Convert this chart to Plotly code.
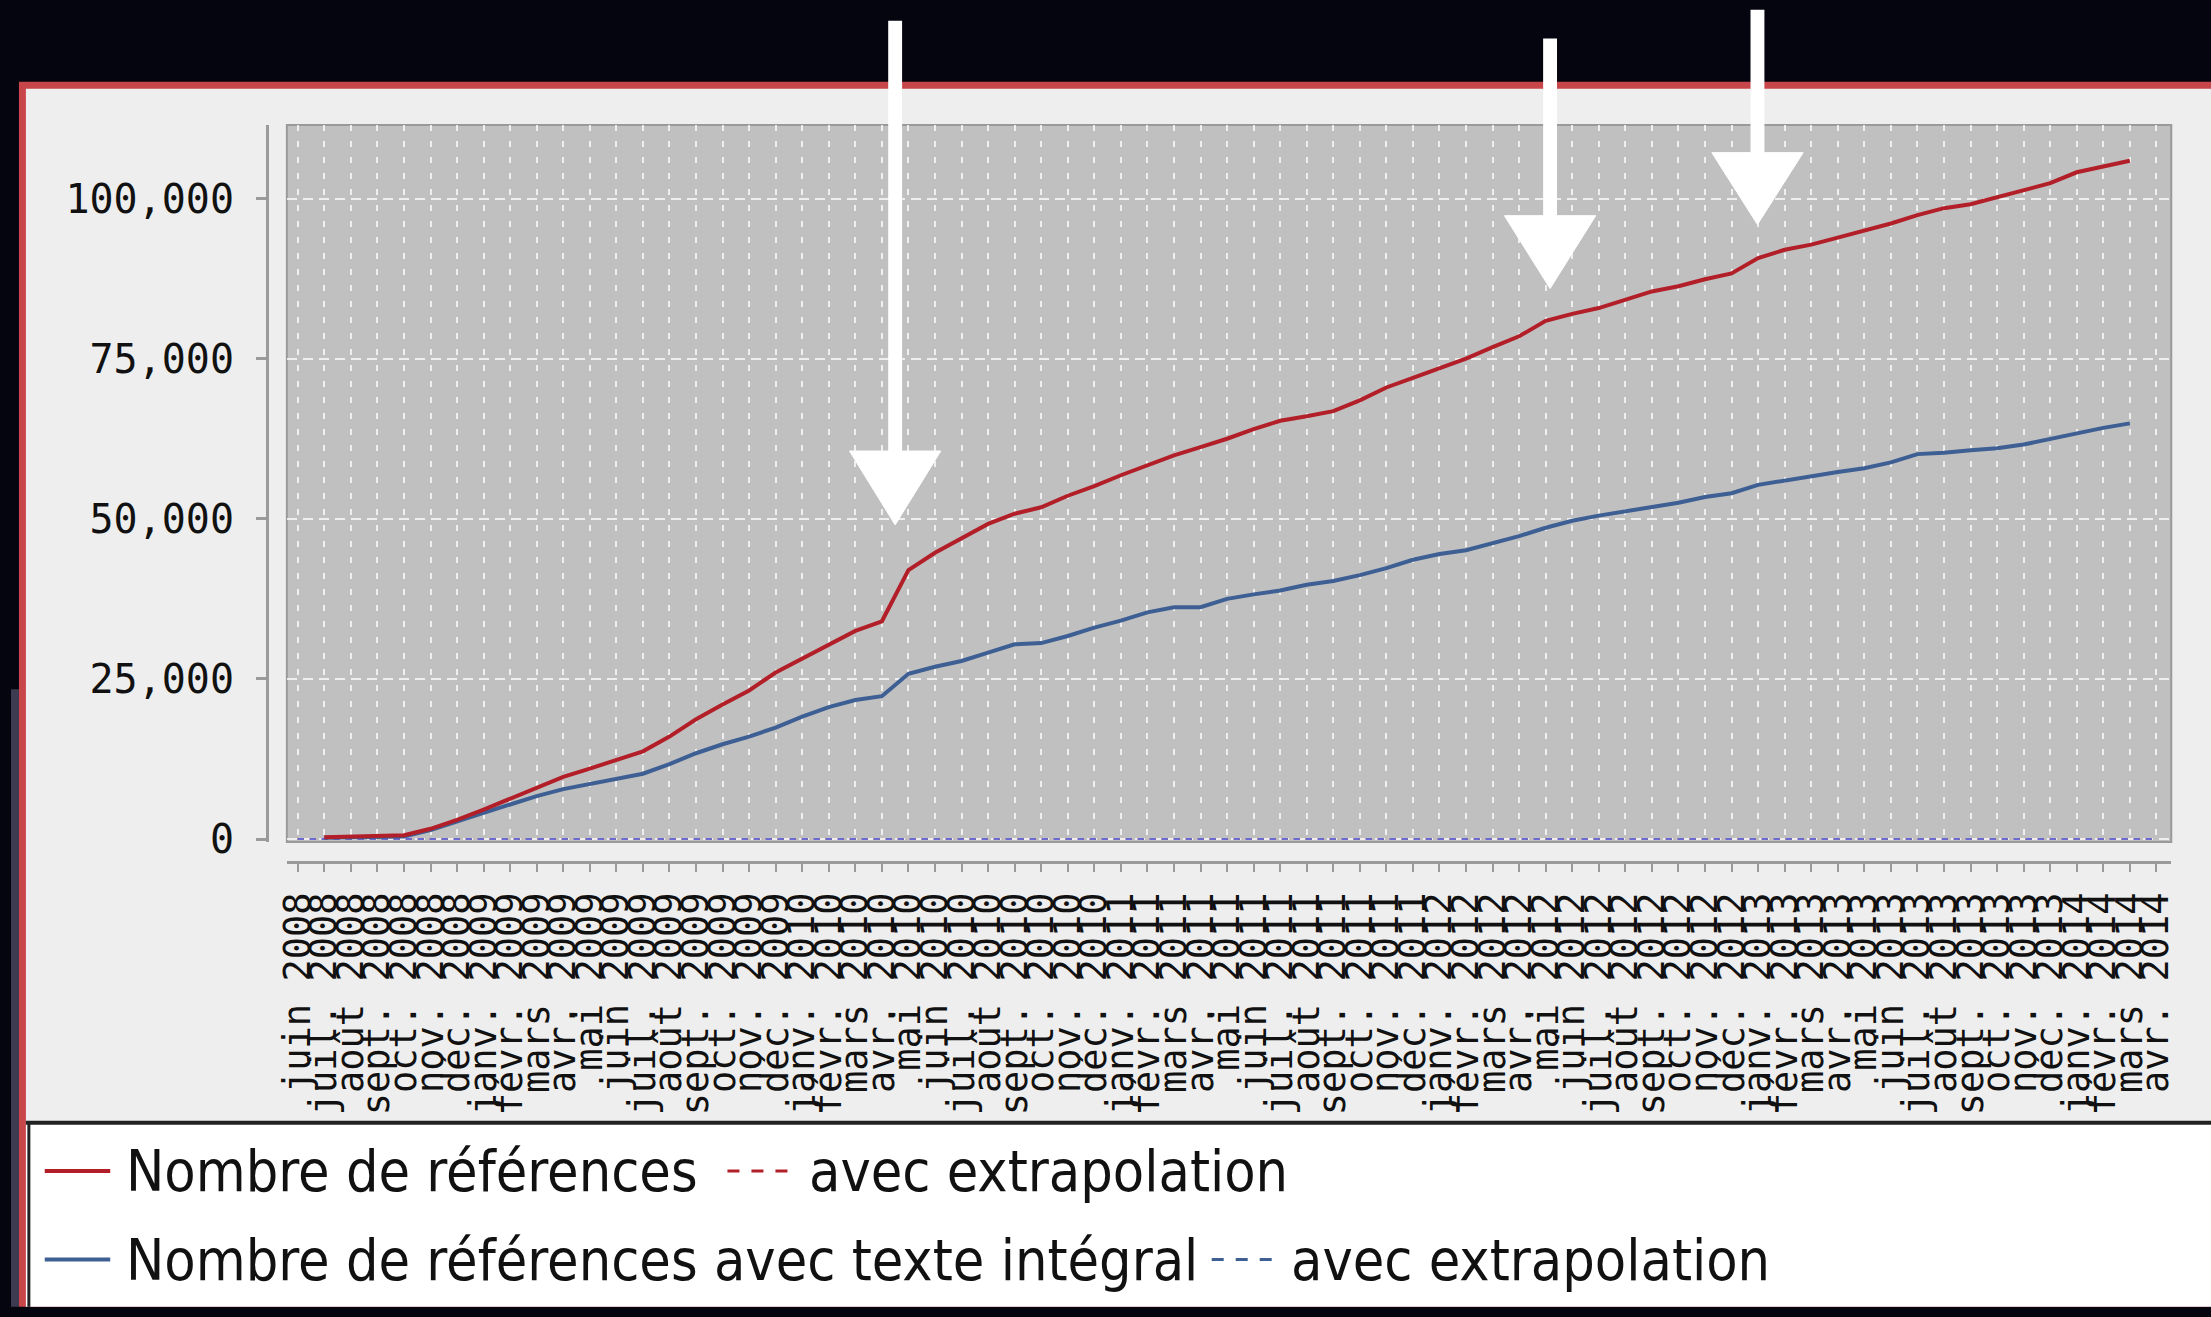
import plotly.graph_objects as go

W, H = 2211, 1317

MONTHS_FR = ["janv.", "févr.", "mars", "avr.", "mai", "juin",
             "juil.", "août", "sept.", "oct.", "nov.", "déc."]

# categories: juin 2008 .. avr. 2014
categories = []
for year in range(2008, 2015):
    for m, name in enumerate(MONTHS_FR):
        if year == 2008 and m < 5:
            continue
        if year == 2014 and m > 3:
            continue
        categories.append(f"{name} {year}")

# Nombre de références (red)
refs = [None,
        300, 400, 500, 600, 1600, 3000, 4600, 6300, 8000, 9700,
        11000, 12400, 13700, 16000, 18700, 21000, 23200, 26000, 28200, 30400,
        32500, 34000, 42000, 44700, 46900, 49200, 50800, 51800, 53600, 55100,
        56800, 58400, 59900, 61200, 62500, 64000, 65300, 66000, 66800, 68500,
        70500, 72000, 73500, 75000, 76800, 78500, 80900, 82000, 82900, 84200,
        85500, 86300, 87400, 88300, 90700, 92000, 92800, 93900, 95000, 96100,
        97400, 98500, 99100, 100200, 101300, 102400, 104100, 105000, 105900,
        None]

# Nombre de références avec texte intégral (blue)
refs_full = [None,
             200, 250, 300, 400, 1400, 2800, 4100, 5400, 6700, 7800,
             8600, 9500, 10200, 11700, 13400, 14800, 16000, 17400, 19100, 20600,
             21700, 22300, 25800, 26900, 27800, 29100, 30400, 30600, 31700, 33000,
             34100, 35400, 36200, 36200, 37500, 38200, 38800, 39700, 40300, 41200,
             42300, 43600, 44500, 45100, 46200, 47300, 48600, 49700, 50500, 51200,
             51800, 52500, 53400, 54000, 55300, 56000, 56600, 57300, 57900, 58800,
             60100, 60300, 60700, 61000, 61600, 62500, 63300, 64200, 64900,
             None]

# extrapolation series (drawn flat at 0 in the chart)
extrap_refs = [0, 0, 0, 0, 0, 0, 0, 0, 0, 0, 0, 0, 0, 0, 0, 0, 0, 0, 0, 0,
               0, 0, 0, 0, 0, 0, 0, 0, 0, 0, 0, 0, 0, 0, 0, 0, 0, 0, 0, 0,
               0, 0, 0, 0, 0, 0, 0, 0, 0, 0, 0, 0, 0, 0, 0, 0, 0, 0, 0, 0,
               0, 0, 0, 0, 0, 0, 0, 0, 0, 0, 0]
extrap_full = list(extrap_refs)

y_ticks = [0, 25000, 50000, 75000, 100000]

legend_labels = ["Nombre de références", "avec extrapolation",
                 "Nombre de références avec texte intégral", "avec extrapolation"]

RED = "#b21f28"
BLUE = "#3d5f93"
EXT = "#6b6bd6"


def px(x):
    return x / W


def py(y):
    return 1 - y / H


fig = go.Figure()
fig.add_trace(go.Scatter(x=categories, y=extrap_refs, mode="lines",
                         line=dict(color=RED, width=2, dash="6px,6px"), name=legend_labels[1]))
fig.add_trace(go.Scatter(x=categories, y=extrap_full, mode="lines",
                         line=dict(color=EXT, width=2, dash="6px,6px"), name=legend_labels[3]))
fig.add_trace(go.Scatter(x=categories, y=refs_full, mode="lines",
                         line=dict(color=BLUE, width=4), name=legend_labels[2]))
fig.add_trace(go.Scatter(x=categories, y=refs, mode="lines",
                         line=dict(color=RED, width=4), name=legend_labels[0]))

shapes = []
# slightly lighter left strip (vignette of the slide)
shapes.append(dict(type="rect", xref="paper", yref="paper", layer="below",
                   x0=0, x1=px(8), y0=py(H + 10), y1=py(700),
                   fillcolor="#3c3b52", line=dict(width=0)))
# red frame
shapes.append(dict(type="rect", xref="paper", yref="paper", layer="below",
                   x0=px(8), x1=px(W + 10), y0=py(H + 10), y1=py(83),
                   fillcolor="#c8454a", line=dict(width=0)))
# light panel
shapes.append(dict(type="rect", xref="paper", yref="paper", layer="below",
                   x0=px(15), x1=px(W + 10), y0=py(1140), y1=py(90),
                   fillcolor="#eeeeee", line=dict(width=0)))
# legend box
shapes.append(dict(type="rect", xref="paper", yref="paper", layer="below",
                   x0=px(15), x1=px(W + 10), y0=py(H + 10), y1=py(1140),
                   fillcolor="#ffffff", line=dict(width=0)))
shapes.append(dict(type="line", xref="paper", yref="paper", layer="below",
                   x0=px(15), x1=px(W + 10), y0=py(1140), y1=py(1140),
                   line=dict(color="#222222", width=4)))
shapes.append(dict(type="line", xref="paper", yref="paper", layer="below",
                   x0=px(18), x1=px(18), y0=py(1140), y1=py(H + 10),
                   line=dict(color="#222222", width=3)))
# plot area background
shapes.append(dict(type="rect", xref="x domain", yref="y domain", layer="below",
                   x0=0, x1=1, y0=0, y1=1,
                   fillcolor="#c0c0c0", line=dict(color="#9a9a9a", width=2)))

# legend symbols
rows = [1189, 1279]
shapes.append(dict(type="line", xref="paper", yref="paper",
                   x0=px(34), x1=px(100), y0=py(rows[0]), y1=py(rows[0]),
                   line=dict(color=RED, width=4)))
shapes.append(dict(type="line", xref="paper", yref="paper",
                   x0=px(722), x1=px(784), y0=py(rows[0]), y1=py(rows[0]),
                   line=dict(color=RED, width=3, dash="12px,12px")))
shapes.append(dict(type="line", xref="paper", yref="paper",
                   x0=px(34), x1=px(100), y0=py(rows[1]), y1=py(rows[1]),
                   line=dict(color=BLUE, width=4)))
shapes.append(dict(type="line", xref="paper", yref="paper",
                   x0=px(1210), x1=px(1276), y0=py(rows[1]), y1=py(rows[1]),
                   line=dict(color=BLUE, width=3, dash="12px,12px")))

# white hand-drawn arrows
arrows = [(891, 21, 458, 533), (1551, 39, 219, 293), (1760, 10, 155, 228)]
for (ax, top, head, tip) in arrows:
    shapes.append(dict(type="rect", xref="paper", yref="paper",
                       x0=px(ax - 7), x1=px(ax + 7), y0=py(head + 2), y1=py(top),
                       fillcolor="white", line=dict(width=0)))
    path = (f"M {px(ax - 46)},{py(head)} L {px(ax + 46)},{py(head)} "
            f"L {px(ax)},{py(tip)} Z")
    shapes.append(dict(type="path", xref="paper", yref="paper", path=path,
                       fillcolor="white", line=dict(color="white", width=1)))

annotations = []
LEG_FONT = dict(family="DejaVu Sans Condensed, Liberation Sans Narrow, DejaVu Sans",
                size=57, color="#111111")
for text, x, y in [(legend_labels[0], 114, rows[0]), (legend_labels[1], 802, rows[0]),
                   (legend_labels[2], 114, rows[1]), (legend_labels[3], 1288, rows[1])]:
    annotations.append(dict(text=text, x=px(x), y=py(y), xref="paper", yref="paper",
                            xanchor="left", yanchor="middle", showarrow=False,
                            font=LEG_FONT))

fig.update_layout(
    width=W, height=H,
    margin=dict(l=0, r=0, t=0, b=0),
    paper_bgcolor="#04050f",
    plot_bgcolor="rgba(0,0,0,0)",
    showlegend=False,
    shapes=shapes,
    annotations=annotations,
    xaxis=dict(
        type="category", categoryorder="array", categoryarray=categories,
        domain=[px(278), px(2177)],
        anchor="free", position=py(875),
        range=[-0.41, 70.56],
        tickmode="array", tickvals=categories, ticktext=categories,
        showline=True, linecolor="#9a9a9a", linewidth=3,
        ticks="outside", ticklen=8, tickwidth=2, tickcolor="#9a9a9a",
        tickangle=-90, ticklabelstandoff=6,
        tickfont=dict(family="DejaVu Sans Mono", size=37, color="#111111"),
        showgrid=True, gridcolor="rgba(255,255,255,0.75)", gridwidth=2,
        griddash="6px,10px", zeroline=False,
    ),
    yaxis=dict(
        domain=[py(855), py(127)],
        anchor="free", position=px(258),
        range=[-461, 111470],
        tickvals=y_ticks, tickformat=",d",
        showline=True, linecolor="#9a9a9a", linewidth=3,
        ticks="outside", ticklen=10, tickwidth=3, tickcolor="#9a9a9a",
        ticklabelstandoff=14,
        tickfont=dict(family="DejaVu Sans Mono", size=40, color="#111111"),
        showgrid=True, gridcolor="rgba(255,255,255,0.75)", gridwidth=2,
        griddash="10px,6px", zeroline=False,
    ),
)

fig.write_html(
    "out.html",
    config={"displayModeBar": False},
    post_script=("var gd=document.getElementById('{plot_id}');"
                 "gd.style.position='fixed';gd.style.left='0px';gd.style.top='0px';"
                 "document.documentElement.style.margin='0';"
                 "document.documentElement.style.overflow='hidden';"
                 "document.body.style.margin='0';"
                 "document.body.style.overflow='hidden';"
                 "document.body.style.background='#04050f';"),
)
